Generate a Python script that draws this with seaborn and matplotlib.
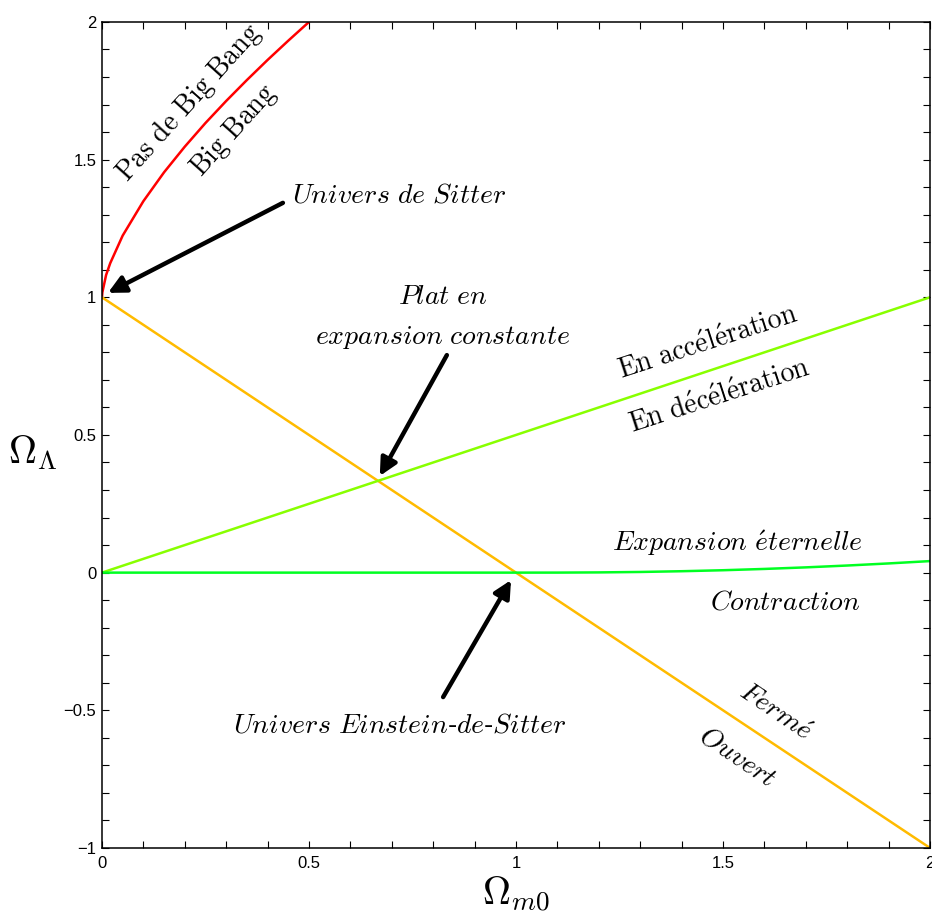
import numpy as np
import pandas as pd
import matplotlib
matplotlib.use('Agg')
import matplotlib.pyplot as plt
from matplotlib.ticker import MultipleLocator
import seaborn as sns

bigbang_x = [0.0, 0.001, 0.01, 0.02, 0.05, 0.1, 0.15, 0.2, 0.25, 0.3, 0.35, 0.4, 0.45, 0.5]
bigbang_y = [1.0, 1.018, 1.081, 1.124, 1.224, 1.349, 1.454, 1.547, 1.633, 1.713, 1.789, 1.862, 1.932, 2.0]

plat_x = [0.0, 2.0]
plat_y = [1.0, -1.0]

accel_x = [0.0, 2.0]
accel_y = [0.0, 1.0]

expansion_x = [0.0, 1.0, 1.1, 1.2, 1.3, 1.4, 1.5, 1.6, 1.7, 1.8, 1.9, 2.0]
expansion_y = [0.0, 0.0, 0.0001, 0.0008, 0.0024, 0.0051, 0.0087, 0.0134, 0.0191, 0.0258, 0.0334, 0.0419]

xticks = [0, 0.5, 1, 1.5, 2]
yticks = [-1, -0.5, 0, 0.5, 1, 1.5, 2]

sns.set_style('ticks')
plt.rcParams['font.family'] = ['Liberation Sans', 'DejaVu Sans']
plt.rcParams['mathtext.fontset'] = 'cm'
plt.rcParams['text.color'] = 'black'
plt.rcParams['axes.labelcolor'] = 'black'
plt.rcParams['xtick.color'] = 'black'
plt.rcParams['ytick.color'] = 'black'

fig = plt.figure(figsize=(9.32, 9.11), dpi=100)
ax = fig.add_axes([0.1094, 0.0692, 0.8885, 0.9067])

sns.lineplot(x=bigbang_x, y=bigbang_y, color='#ff0000', lw=1.8, ax=ax)
sns.lineplot(x=plat_x, y=plat_y, color='#ffbb00', lw=1.8, ax=ax)
sns.lineplot(x=accel_x, y=accel_y, color='#88ff00', lw=1.8, ax=ax)
sns.lineplot(x=expansion_x, y=expansion_y, color='#00ff22', lw=1.8, ax=ax)

ax.set_xlim(0, 2)
ax.set_ylim(-1, 2)
ax.set_xticks(xticks)
ax.set_xticklabels(['0', '0.5', '1', '1.5', '2'])
ax.set_yticks(yticks)
ax.set_yticklabels(['\u22121', '\u22120.5', '0', '0.5', '1', '1.5', '2'])
ax.xaxis.set_minor_locator(MultipleLocator(0.1))
ax.yaxis.set_minor_locator(MultipleLocator(0.1))
ax.tick_params(which='both', direction='in', top=True, right=True, length=5, width=0.8,
               labelsize=12, color='black', labelcolor='black')
ax.tick_params(axis='x', pad=6)
ax.tick_params(axis='y', pad=4)
for s in ax.spines.values():
    s.set_linewidth(1.1)
    s.set_color('black')

ax.set_xlabel(r'$\Omega_{m0}$', fontsize=28, labelpad=2)
ax.set_ylabel(r'$\Omega_\Lambda$', fontsize=28, rotation=0, labelpad=22)
ax.yaxis.set_label_coords(-0.083, 0.455)

fs = 20
ax.text(0.210, 1.705, r'$\mathrm{Pas\ de\ Big\ Bang}$', fontsize=fs, rotation=48, ha='center', va='center')
ax.text(0.318, 1.605, r'$\mathrm{Big\ Bang}$', fontsize=fs, rotation=48, ha='center', va='center')
ax.text(1.464, 0.834, r'$\mathrm{En\ acc\acute{e}l\acute{e}ration}$', fontsize=fs, rotation=18, ha='center', va='center')
ax.text(1.493, 0.638, r'$\mathrm{En\ d\acute{e}c\acute{e}l\acute{e}ration}$', fontsize=fs, rotation=18, ha='center', va='center')
ax.text(1.534, 0.108, r'$\mathit{Expansion\ \acute{e}ternelle}$', fontsize=fs, ha='center', va='center')
ax.text(1.650, -0.107, r'$\mathit{Contraction}$', fontsize=fs, ha='center', va='center')
ax.text(1.626, -0.506, r'$\mathit{Ferm\acute{e}}$', fontsize=fs, rotation=-34, ha='center', va='center')
ax.text(1.536, -0.670, r'$\mathit{Ouvert}$', fontsize=fs, rotation=-34, ha='center', va='center')

arrow = dict(arrowstyle='-|>', color='black', lw=3.2, mutation_scale=26, shrinkA=0, shrinkB=0)
ax.annotate('', xy=(0.0145, 1.016), xytext=(0.437, 1.343), arrowprops=arrow)
ax.text(0.459, 1.37, r'$\mathit{Univers\ de\ Sitter}$', fontsize=fs, ha='left', va='center')

ax.annotate('', xy=(0.671, 0.351), xytext=(0.833, 0.79), arrowprops=arrow)
ax.text(0.824, 1.00, r'$\mathit{Plat\ en}$', fontsize=fs, ha='center', va='center')
ax.text(0.824, 0.855, r'$\mathit{expansion\ constante}$', fontsize=fs, ha='center', va='center')

ax.annotate('', xy=(0.988, -0.027), xytext=(0.824, -0.452), arrowprops=arrow)
ax.text(0.72, -0.555, r'$\mathit{Univers\ Einstein}$-$\mathit{de}$-$\mathit{Sitter}$', fontsize=fs,
        ha='center', va='center')

fig.savefig('out.png', dpi=100)
